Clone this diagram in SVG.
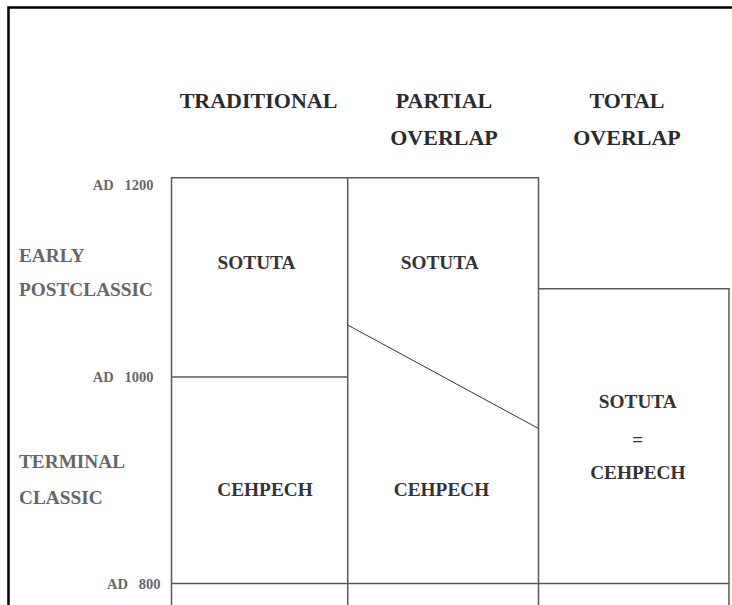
<svg xmlns="http://www.w3.org/2000/svg" width="732" height="605" viewBox="0 0 732 605">
<style>
text{font-family:"Liberation Serif","Times New Roman",serif;font-weight:bold;}
.hd{font-size:22px;fill:#2b2b2b;text-anchor:middle;}
.side{font-size:19.3px;fill:#666;}
.ad{font-size:14.5px;fill:#666;}
.e{text-anchor:end;}
.cell{font-size:19.3px;fill:#333;text-anchor:middle;}
.ln{stroke:#5a5a5a;stroke-width:1.5;fill:none;}
.diag{stroke:#333;stroke-width:1;fill:none;}
</style>
<rect width="732" height="605" fill="#fff"/>
<path d="M8.5,605 V7.5 H732" fill="none" stroke="#000" stroke-width="2.5"/>
<g id="headers">
<text class="hd" x="258.5" y="108">TRADITIONAL</text>
<text class="hd" x="444" y="108">PARTIAL</text>
<text class="hd" x="444" y="145">OVERLAP</text>
<text class="hd" x="627" y="108">TOTAL</text>
<text class="hd" x="627" y="145">OVERLAP</text>
</g>
<g id="time-axis">
<text class="ad" x="92.7" y="190">AD</text>
<text class="ad e" x="153.5" y="190">1200</text>
<text class="ad" x="92.7" y="382">AD</text>
<text class="ad e" x="153.5" y="382">1000</text>
<text class="ad" x="107" y="588.5">AD</text>
<text class="ad e" x="160.5" y="588.5">800</text>
<text class="side" x="19" y="261.5">EARLY</text>
<text class="side" x="19" y="296">POSTCLASSIC</text>
<text class="side" x="19" y="467.5">TERMINAL</text>
<text class="side" x="19" y="503.5">CLASSIC</text>
</g>
<g id="connectors">
<path class="ln" d="M171.5,605 V177.8 H538.5 V605"/>
<path class="ln" d="M347.7,177.8 V605"/>
<path class="ln" d="M171.5,377 H347.7"/>
<path class="ln" d="M538.5,288.7 H729 V605"/>
<path class="ln" d="M171.5,583.5 H729"/>
<path class="diag" d="M347.7,325 L538.5,428.5"/>
</g>
<g id="traditional-sotuta"><text class="cell" x="256.5" y="269.3">SOTUTA</text></g>
<g id="traditional-cehpech"><text class="cell" x="265" y="496">CEHPECH</text></g>
<g id="partial-sotuta"><text class="cell" x="439.7" y="269.3">SOTUTA</text></g>
<g id="partial-cehpech"><text class="cell" x="441.5" y="496">CEHPECH</text></g>
<g id="total-overlap">
<text class="cell" x="637.8" y="408.3">SOTUTA</text>
<text class="cell" x="637.8" y="446">=</text>
<text class="cell" x="637.8" y="479">CEHPECH</text>
</g>
</svg>
